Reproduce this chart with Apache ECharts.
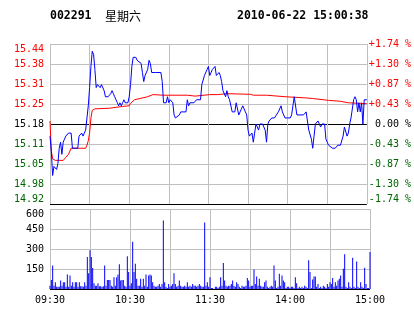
<!DOCTYPE html>
<html><head><meta charset="utf-8">
<script src="https://cdn.jsdelivr.net/npm/echarts@6/dist/echarts.min.js"></script>
<style>html,body{margin:0;padding:0;background:#fff}#c{width:414px;height:314px}</style>
</head><body><div id="c"></div>
<script>
const stockCode = '002291';
const dayName = '星期六';
const stamp = '2010-06-22 15:00:38';
const prevClose = 15.18;
const priceStep = 0.066;

// minute index (0 = 09:30, 120 = 11:30/13:00, 240 = 15:00)
const priceT = [0,1,2,3,4,5,6,7,8,9,10,11,12,13,14,16,17,21,22,23,24,25,26,27,28,29,30,31,32,33,34,35,36,37,38,39,40,41,42,43,44,45,46,47,48,49,50,51,52,53,54,55,56,57,59,60,
  61,62,63,64,65,66,67,69,70,71,72,74,75,76,77,80,84,85,86,88,89,90,91,93,94,95,96,98,99,103,104,105,106,109,111,114,115,117,119,120,
  121,122,123,124,125,126,128,129,130,131,133,134,135,136,138,139,140,141,143,144,145,146,148,149,150,151,153,154,155,156,158,159,161,163,164,165,166,168,170,171,173,174,175,176,178,180,
  182,183,184,185,186,187,192,194,195,196,198,199,200,201,203,204,205,206,208,209,210,211,214,216,218,220,222,223,224,225,226,227,228,229,230,231,232,233,234,235,236,237,238,240];
const priceV = [15.14,15.09,15.01,15.04,15.04,15.03,15.05,15.10,15.12,15.08,15.12,15.13,15.14,15.14,15.15,15.15,15.10,15.10,15.14,15.14,15.15,15.14,15.15,15.16,15.20,15.24,15.30,15.37,15.42,15.41,15.36,15.30,15.31,15.31,15.30,15.31,15.31,15.29,15.27,15.27,15.27,15.27,15.28,15.29,15.28,15.27,15.26,15.25,15.24,15.25,15.24,15.25,15.26,15.25,15.25,15.27,
  15.31,15.37,15.40,15.40,15.40,15.39,15.39,15.38,15.35,15.32,15.34,15.36,15.39,15.38,15.35,15.35,15.35,15.32,15.25,15.25,15.27,15.25,15.26,15.25,15.21,15.20,15.20,15.21,15.22,15.22,15.26,15.24,15.25,15.25,15.26,15.26,15.31,15.34,15.36,15.37,
  15.34,15.35,15.36,15.36,15.37,15.34,15.35,15.34,15.32,15.29,15.27,15.29,15.27,15.26,15.22,15.22,15.22,15.25,15.21,15.22,15.23,15.24,15.22,15.21,15.16,15.14,15.15,15.12,15.15,15.18,15.16,15.18,15.18,15.16,15.12,15.18,15.19,15.20,15.20,15.20,15.22,15.22,15.24,15.22,15.20,15.20,
  15.20,15.21,15.24,15.27,15.27,15.21,15.21,15.22,15.19,15.16,15.13,15.10,15.14,15.18,15.19,15.18,15.17,15.18,15.18,15.13,15.12,15.11,15.10,15.10,15.11,15.11,15.14,15.17,15.17,15.14,15.15,15.18,15.20,15.20,15.26,15.27,15.26,15.22,15.25,15.22,15.25,15.18,15.26,15.26];

const avgT = [0,1,2,4,10,12,14,16,27,28,29,30,31,32,34,45,50,55,60,61,64,69,74,78,86,104,110,121,127,128,134,135,152,154,164,165,178,179,194,195,199,200,211,212,220,221,226,227,240];
const avgV = [15.19,15.09,15.065,15.06,15.06,15.07,15.08,15.10,15.10,15.11,15.125,15.15,15.20,15.225,15.23,15.232,15.235,15.238,15.24,15.248,15.26,15.265,15.27,15.277,15.275,15.275,15.272,15.277,15.277,15.28,15.28,15.278,15.278,15.275,15.275,15.27,15.27,15.266,15.266,15.264,15.264,15.258,15.258,15.255,15.255,15.25,15.25,15.247,15.247];

// volume per minute, index 0..240
const volume = [25,68,177,25,50,17,17,17,63,25,50,50,17,109,17,101,25,50,17,50,50,17,50,20,20,17,50,25,240,119,290,240,157,43,25,25,43,20,20,17,
  20,177,25,68,68,68,25,17,88,25,88,109,185,63,68,68,25,17,245,127,25,43,354,127,190,76,25,25,76,17,76,25,109,17,101,109,101,50,25,17,
  17,25,38,17,38,514,50,17,8,38,17,25,38,119,38,17,25,63,25,17,17,25,17,50,17,25,17,38,25,25,17,25,38,25,17,17,498,25,50,17,
  88,8,8,0,17,17,8,17,88,25,195,63,25,17,25,25,38,63,25,17,50,38,17,8,25,17,17,25,83,63,17,25,25,147,38,94,25,76,25,17,
  17,50,63,17,8,17,25,17,177,63,8,17,114,25,101,63,50,8,17,17,8,17,17,8,88,43,8,17,8,17,8,25,17,8,215,127,8,71,94,94,
  17,38,8,17,8,25,17,8,38,17,50,38,83,17,50,25,63,76,101,17,152,260,17,8,50,17,8,235,17,8,207,17,8,50,17,8,160,38,8,8,278];

const volumeMax = 600;
const volumeStep = 150;
const timeTickPos = [0, 60, 120, 180, 240];
const timeTickText = ['09:30', '10:30', '11:30', '14:00', '15:00'];

const gray = '#c0c0c0', red = '#ff0000', green = '#006400', black = '#000000';
const mono = '"DejaVu Sans Mono", monospace';
const pMin = prevClose - 4 * priceStep, pMax = prevClose + 4 * priceStep;
const pctStep = priceStep / prevClose * 100;

function priceColor(v) {
  const d = parseFloat(v) - prevClose;
  return d > 1e-6 ? red : (d < -1e-6 ? green : black);
}
function pctColor(v) {
  const d = parseFloat(v);
  return d > 1e-6 ? red : (d < -1e-6 ? green : black);
}

const chart = echarts.init(document.getElementById('c'), null, {renderer: 'canvas'});
chart.setOption({
  animation: false,
  backgroundColor: '#fff',
  graphic: [
    {type: 'text', x: 50, y: 16, style: {text: stockCode, font: 'bold 11.5px ' + mono, fill: black, verticalAlign: 'middle'}},
    {type: 'text', x: 105, y: 16, style: {text: dayName, font: '12px "Noto Sans CJK SC"', fill: black, verticalAlign: 'middle'}},
    {type: 'text', x: 237, y: 16, style: {text: stamp, font: 'bold 11.5px ' + mono, fill: black, verticalAlign: 'middle'}}
  ],
  grid: [
    {left: 50, top: 44, width: 320, height: 160},
    {left: 50, top: 209, width: 320, height: 80}
  ],
  xAxis: [
    {type: 'value', gridIndex: 0, min: 0, max: 240, interval: 30,
      axisLine: {show: false}, axisTick: {show: false}, axisLabel: {show: false},
      splitLine: {show: true, lineStyle: {color: gray, width: 1}}},
    {type: 'value', gridIndex: 1, min: 0, max: 240, interval: 30,
      axisLine: {show: false}, axisTick: {show: false},
      axisLabel: {show: true, margin: 6, fontSize: 10, fontFamily: mono, color: black,
        formatter: function (v) { const k = timeTickPos.indexOf(Math.round(v)); return k >= 0 ? timeTickText[k] : ''; }},
      splitLine: {show: true, lineStyle: {color: gray, width: 1}}}
  ],
  yAxis: [
    {type: 'value', gridIndex: 0, position: 'left', min: pMin, max: pMax, interval: priceStep,
      axisLine: {show: false}, axisTick: {show: false},
      axisLabel: {show: true, margin: 6, fontSize: 10, fontFamily: mono,
        formatter: function (v) { return v.toFixed(2); }, color: priceColor,
        verticalAlignMaxLabel: 'top', verticalAlignMinLabel: 'bottom'},
      splitLine: {show: true, lineStyle: {width: 1, color: [black, gray, gray, gray, black, gray, gray, gray, gray]}}},
    {type: 'value', gridIndex: 0, position: 'right', min: -4 * pctStep, max: 4 * pctStep, interval: pctStep,
      axisLine: {show: false}, axisTick: {show: false}, splitLine: {show: false},
      axisLabel: {show: true, margin: 2, align: 'left', fontSize: 10, fontFamily: mono, color: pctColor,
        verticalAlignMaxLabel: 'top', verticalAlignMinLabel: 'bottom',
        formatter: function (v) {
          if (Math.abs(v) < 1e-6) return ' 0.00 %';
          return (v > 0 ? '+' : '-') + Math.abs(v).toFixed(2) + ' %';
        }}},
    {type: 'value', gridIndex: 1, position: 'left', min: 0, max: volumeMax, interval: volumeStep,
      axisLine: {show: false}, axisTick: {show: false},
      axisLabel: {show: true, margin: 6, fontSize: 10, fontFamily: mono, color: black, showMinLabel: false,
        verticalAlignMaxLabel: 'top'},
      splitLine: {show: true, lineStyle: {width: 1, color: [black, gray, gray, gray, gray]}}}
  ],
  series: [
    {type: 'line', xAxisIndex: 0, yAxisIndex: 0, symbol: 'none', silent: true,
      lineStyle: {color: '#ff0000', width: 1}, data: avgT.map((t, k) => [t, avgV[k]])},
    {type: 'line', xAxisIndex: 0, yAxisIndex: 0, symbol: 'none', silent: true,
      lineStyle: {color: '#0000ff', width: 1}, data: priceT.map((t, k) => [t, priceV[k]])},
    {type: 'bar', xAxisIndex: 1, yAxisIndex: 2, barWidth: 1, silent: true,
      itemStyle: {color: '#0000ff'}, data: volume.map((v, i) => [i, v])}
  ]
});
</script>
</body></html>
